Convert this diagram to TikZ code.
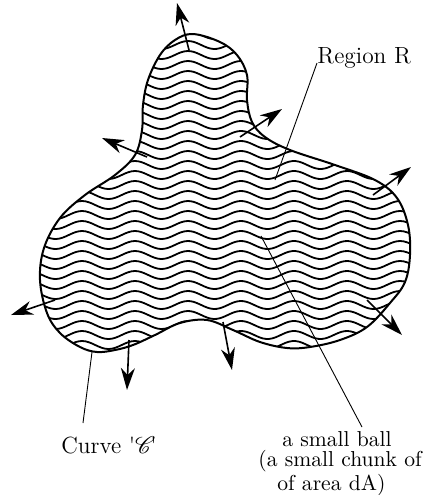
\documentclass[tikz,border=0pt]{standalone}
\usepackage{mathrsfs}
\usetikzlibrary{arrows.meta}
\begin{document}
\begin{tikzpicture}[x=0.5pt,y=-0.5pt,
  outline/.style={line width=1pt, line join=round},
  wave/.style={line width=0.9pt},
  normalarrow/.style={line width=0.8pt, -{Stealth[length=11pt,width=7pt,inset=3.5pt]}},
  leader/.style={line width=0.45pt},
  lbl/.style={font=\fontsize{11.7}{12}\selectfont, inner sep=0pt},
  lblsmall/.style={font=\fontsize{10.8}{10.3}\selectfont, inner sep=0pt}]
\useasboundingbox (0,0) rectangle (426,495);
\def\blob{plot[smooth cycle, tension=0.6] coordinates {
 (193,34) (220,42) (237,55) (247,75) (247,100) (252,122) (265,137) (290,150)
 (335,165) (375,180) (397,198) (408,225) (410,255) (405,282) (390,303)
 (367,327) (340,340) (310,347) (287,348) (260,342) (233,330) (207,320)
 (180,323) (155,335) (133,345) (115,350) (97,352) (80,347) (60,333)
 (47,313) (40,280) (44,248) (60,218) (85,195) (115,175) (135,155)
 (142,130) (143,105) (148,80) (160,55) (175,40)}}
\begin{scope}
\clip \blob;
\foreach \k in {0,...,33} {
  \draw[wave] plot[domain=30:420, samples=120, variable=\t]
    (\t, {35+10*\k - 4*cos((\t-188)/53*360)});
}
\end{scope}
\draw[outline] \blob;
% normal arrows
\coordinate (t1) at (189,50);  \coordinate (h1) at (177,3);
\coordinate (t2) at (147,157); \coordinate (h2) at (102,138);
\coordinate (t3) at (240,137); \coordinate (h3) at (282,109);
\coordinate (t4) at (373,195); \coordinate (h4) at (411,167);
\coordinate (t5) at (55,300);  \coordinate (h5) at (11,315);
\coordinate (t6) at (129,340); \coordinate (h6) at (127,390);
\coordinate (t7) at (223,322); \coordinate (h7) at (232,370);
\coordinate (t8) at (367,300); \coordinate (h8) at (402,335);
\foreach \i in {1,...,8} { \draw[normalarrow] (t\i) -- (h\i); }
% labels
\node[lbl, anchor=base west] (regR) at (317,63) {Region R};
\node[lbl, anchor=base west] (curveC) at (61,453) {Curve \textquotesingle$\mathscr{C}$\kern-2.5pt\textquotesingle};
\node[lblsmall, anchor=north west, align=left] (ball) at (258,431)
  {\hspace*{12pt}a small ball\\(a small chunk of\\\hspace*{9.5pt}of area dA)};
% leaders
\coordinate (rA) at (275,180);
\coordinate (bA) at (261,236);
\coordinate (cA) at (92,352);
\coordinate (rB) at (317,63);
\coordinate (bB) at (362,427);
\coordinate (cB) at (83,423);
\draw[leader] (rB) -- (rA);
\draw[leader] (bA) -- (bB);
\draw[leader] (cA) -- (cB);
\end{tikzpicture}
\end{document}
